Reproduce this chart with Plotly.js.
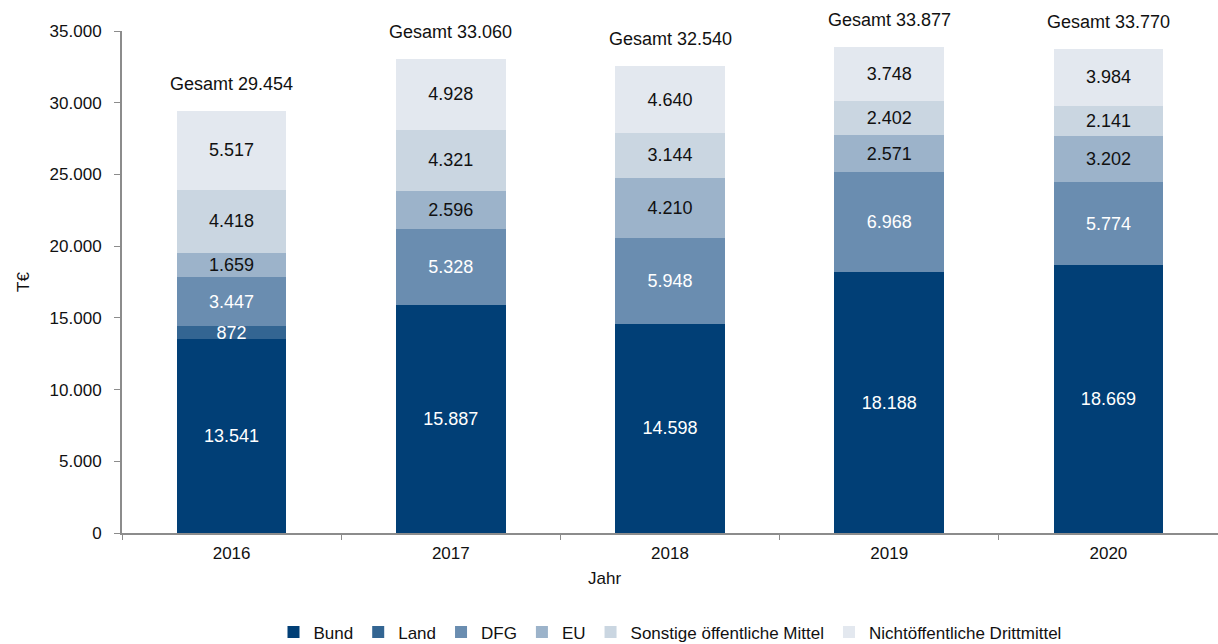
<!DOCTYPE html>
<html><head><meta charset="utf-8">
<script src="https://cdn.plot.ly/plotly-3.0.1.min.js"></script>
<style>body{margin:0;background:#fff}#c{width:1218px;height:644px}</style>
</head><body><div id="c"></div>
<script>
var years = ['2016','2017','2018','2019','2020'];
var bund = [13541, 15887, 14598, 18188, 18669];
var land = [872, 0, 0, 0, 0];
var dfg = [3447, 5328, 5948, 6968, 5774];
var eu = [1659, 2596, 4210, 2571, 3202];
var sonstige = [4418, 4321, 3144, 2402, 2141];
var nicht = [5517, 4928, 4640, 3748, 3984];
var totals = [29454, 33060, 32540, 33877, 33770];

var seriesNames = ['Bund','Land','DFG','EU','Sonstige öffentliche Mittel','Nichtöffentliche Drittmittel'];
var seriesVals = [bund, land, dfg, eu, sonstige, nicht];
var colors = ['#013f76','#336592','#6a8db0','#9cb3ca','#cad6e1','#e3e8ef'];
var textColors = ['#ffffff','#ffffff','#ffffff','#111111','#111111','#111111'];
var FONT = 'Liberation Sans, Arial, sans-serif';

var traces = seriesNames.map(function(n, i){
  return {
    type: 'bar', name: n, x: years,
    y: seriesVals[i].map(function(v){ return v ? v : null; }),
    marker: {color: colors[i], line: {width: 0}},
    texttemplate: '%{y:,}', textposition: 'inside', insidetextanchor: 'middle',
    constraintext: 'none', textangle: 0,
    textfont: {family: FONT, size: 18, color: textColors[i]},
    hoverinfo: 'name+y'
  };
});

var annotations = years.map(function(yr, i){
  return {x: i, y: totals[i], xref: 'x', yref: 'y', yanchor: 'bottom',
    yshift: 15, showarrow: false,
    text: 'Gesamt ' + totals[i].toLocaleString('de-DE'),
    font: {family: FONT, size: 18, color: '#111'}};
});
annotations.push({xref: 'paper', yref: 'paper', x: 0.44, y: -0.09, yanchor: 'middle',
  showarrow: false, text: 'Jahr',
  font: {family: FONT, size: 17, color: '#111'}});

var layout = {
  barmode: 'stack', bargap: 0.5,
  separators: ',.',
  width: 1218, height: 644,
  margin: {l: 122, r: 0, t: 31, b: 111, autoexpand: false},
  paper_bgcolor: '#fff', plot_bgcolor: '#fff',
  font: {family: FONT, size: 17, color: '#111'},
  xaxis: {type: 'category', range: [-0.5, 4.5], autorange: false, showline: true, linecolor: '#8c8c8c', linewidth: 2,
    ticks: 'outside', tickson: 'boundaries', ticklen: 5, tickcolor: '#8c8c8c',
    tickfont: {size: 17}, tickangle: 0, showgrid: false, ticklabelstandoff: 4},
  yaxis: {range: [0, 35000], autorange: false, dtick: 5000, tickformat: ',d', showline: true,
    linecolor: '#8c8c8c', linewidth: 2, ticks: 'outside', ticklen: 6,
    tickcolor: '#8c8c8c', showgrid: false, zeroline: false, tickfont: {size: 17},
    ticklabelstandoff: 9,
    title: {text: 'T€', font: {size: 17}, standoff: 16}},
  legend: {orientation: 'h', x: 0.5, xanchor: 'center', y: -0.198, yanchor: 'middle',
    traceorder: 'normal', font: {size: 17}},
  annotations: annotations,
  showlegend: true
};
Plotly.newPlot('c', traces, layout, {displayModeBar: false, staticPlot: true});
</script></body></html>
